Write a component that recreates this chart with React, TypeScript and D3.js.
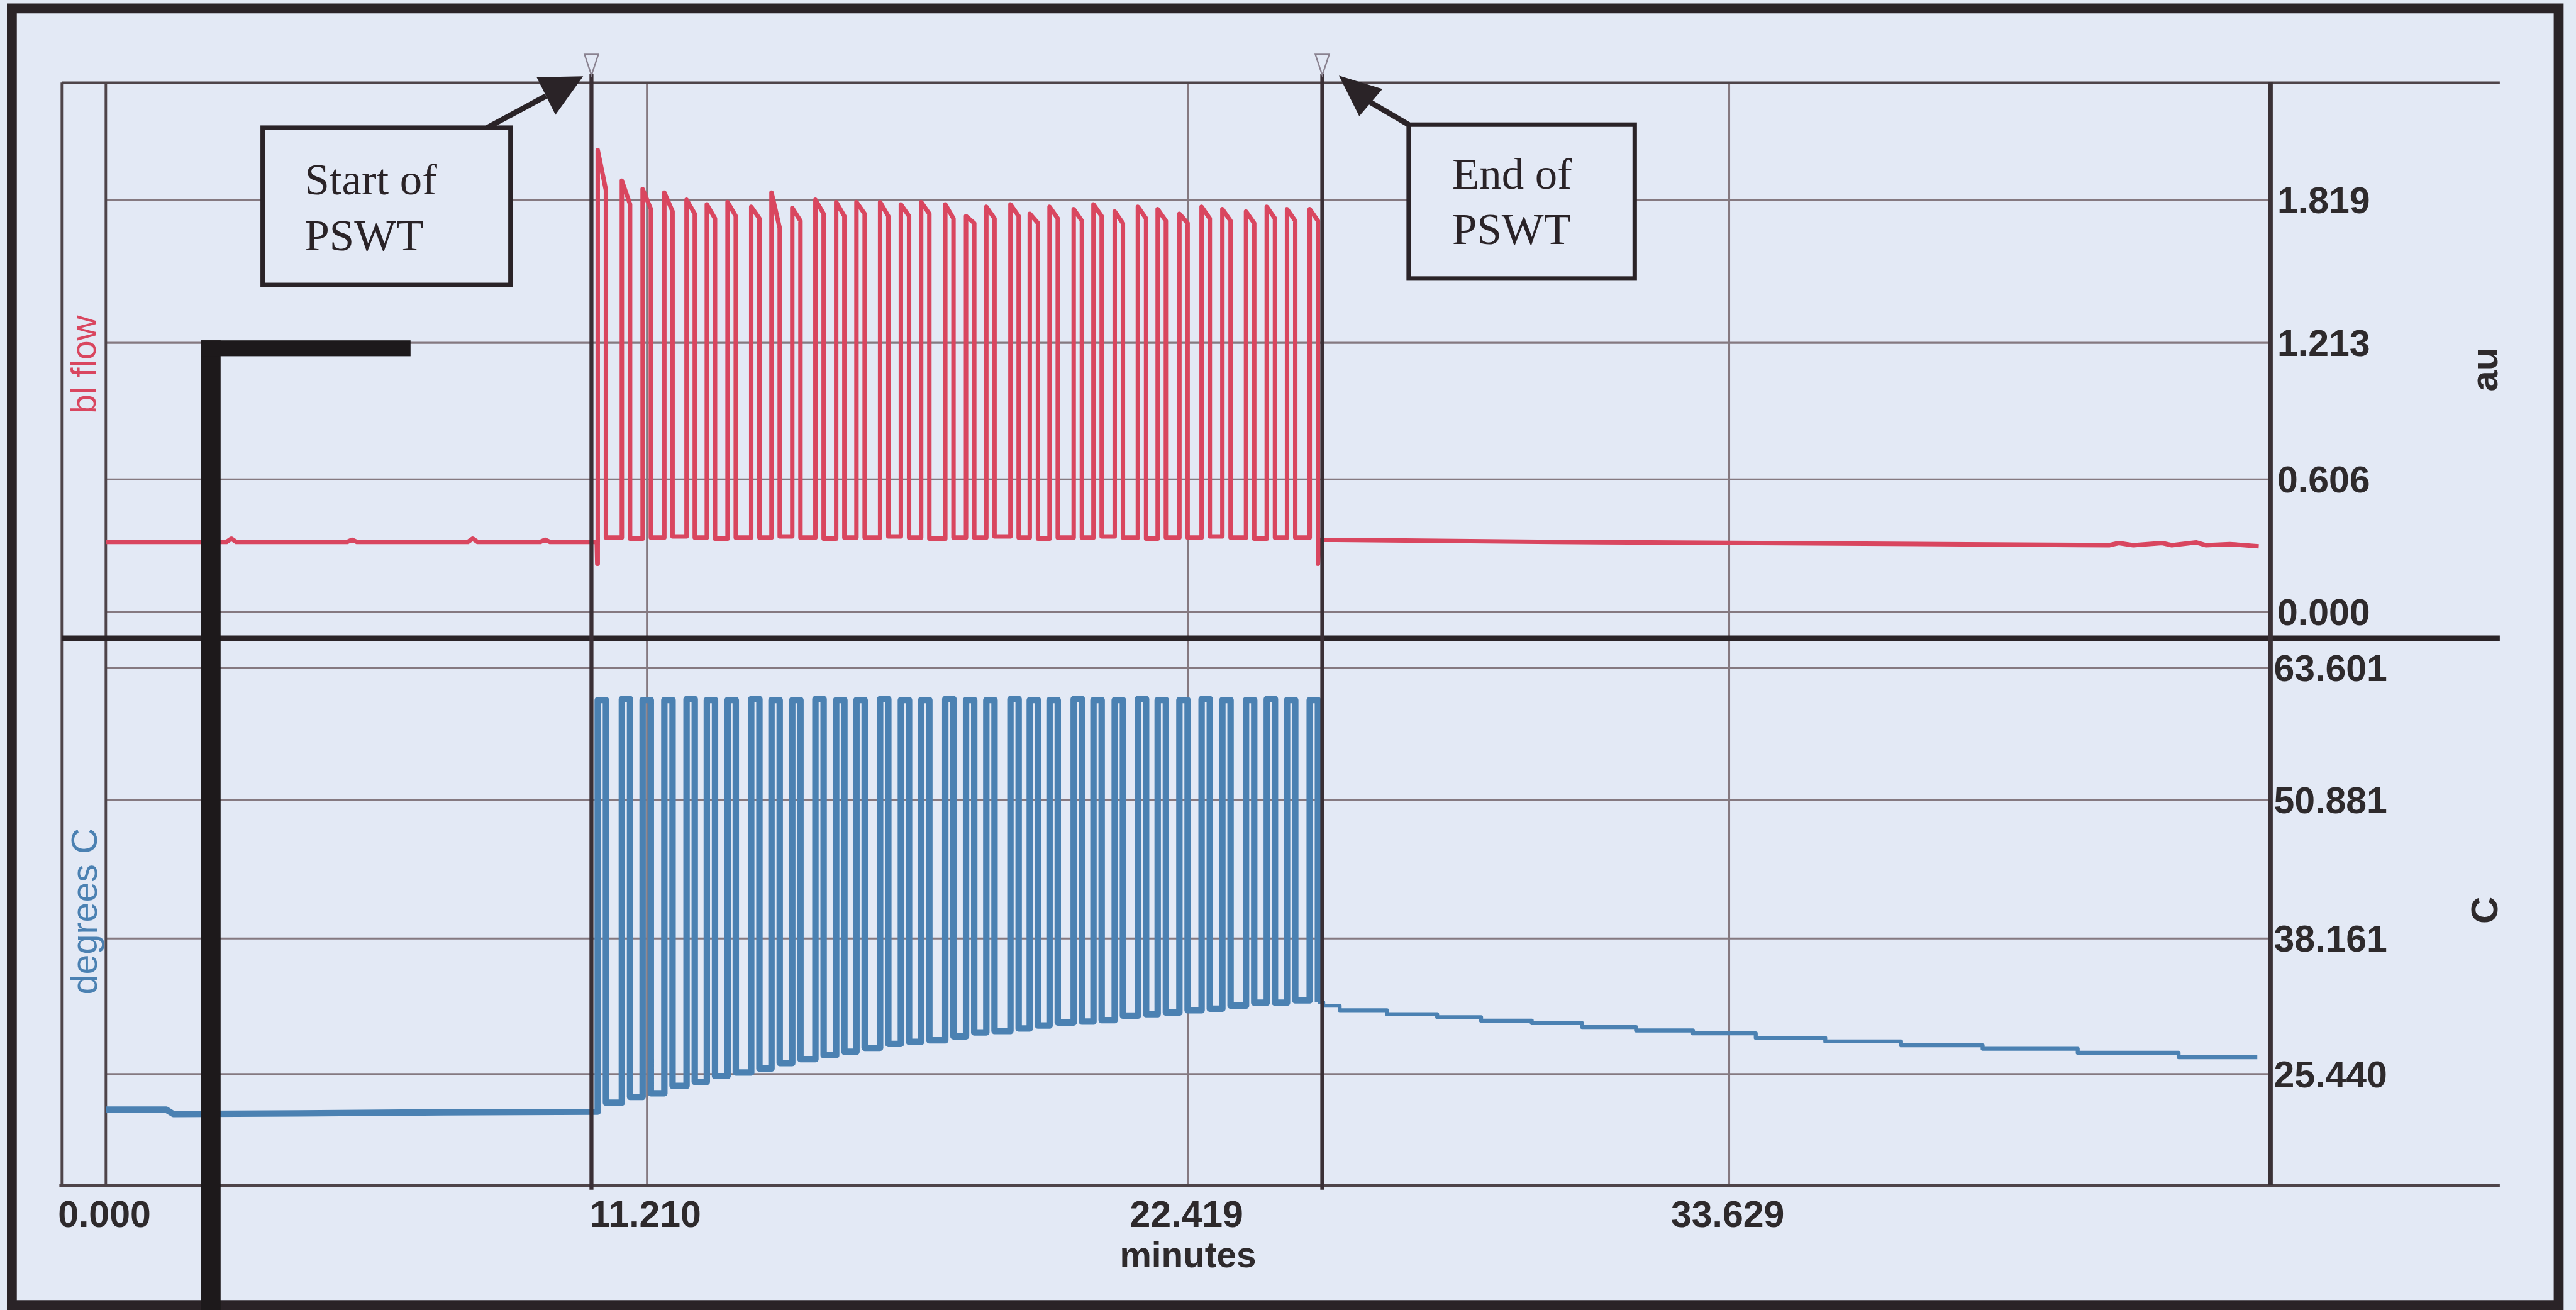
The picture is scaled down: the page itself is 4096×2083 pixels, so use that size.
import React from 'react';
import * as d3 from 'd3';

// ---------------- data ----------------
const xTicks = [0, 11.21, 22.419, 33.629];
const flowTicks = [0, 0.606, 1.213, 1.819];
const tempTicks = [25.44, 38.161, 50.881, 63.601];
const eventTimes = [10.06, 25.2];

// pulse train timing (minutes)
const pulseRise = [10.19, 10.69, 11.12, 11.57, 12.03, 12.45, 12.88, 13.37, 13.79, 14.22, 14.70, 15.13, 15.55, 16.04, 16.47, 16.89, 17.39, 17.82, 18.24, 18.74, 19.14, 19.55, 20.05, 20.46, 20.90, 21.38, 21.79, 22.24, 22.70, 23.13, 23.62, 24.05, 24.47, 24.94];
const pulseFall = [10.36, 10.86, 11.29, 11.74, 12.20, 12.62, 13.05, 13.54, 13.96, 14.39, 14.87, 15.30, 15.72, 16.21, 16.64, 17.06, 17.56, 17.99, 18.41, 18.91, 19.31, 19.72, 20.22, 20.63, 21.07, 21.55, 21.96, 22.41, 22.87, 23.30, 23.79, 24.22, 24.64, 25.11];

// blood flow (au)
const flowPeak = [2.03, 1.90, 1.865, 1.85, 1.82, 1.80, 1.81, 1.79, 1.85, 1.785, 1.82, 1.81, 1.81, 1.81, 1.80, 1.81, 1.80, 1.75, 1.79, 1.80, 1.76, 1.79, 1.78, 1.80, 1.77, 1.79, 1.78, 1.76, 1.79, 1.78, 1.77, 1.79, 1.78, 1.78];
const flowPlateau = [1.86, 1.80, 1.78, 1.77, 1.76, 1.74, 1.75, 1.74, 1.70, 1.73, 1.76, 1.75, 1.76, 1.75, 1.75, 1.76, 1.74, 1.72, 1.74, 1.75, 1.72, 1.74, 1.73, 1.75, 1.72, 1.74, 1.73, 1.72, 1.74, 1.73, 1.72, 1.74, 1.73, 1.73];
const flowLow = [0.34, 0.335, 0.34, 0.345, 0.34, 0.335, 0.34, 0.34, 0.345, 0.34, 0.335, 0.34, 0.34, 0.345, 0.34, 0.335, 0.34, 0.34, 0.345, 0.34, 0.335, 0.34, 0.34, 0.345, 0.34, 0.335, 0.34, 0.34, 0.345, 0.34, 0.335, 0.34, 0.34, 0.22];
const flowPreTime = [0, 2.5, 2.6, 2.7, 5.0, 5.1, 5.2, 7.5, 7.6, 7.7, 9.0, 9.1, 9.2, 10.17, 10.18];
const flowPreValue = [0.32, 0.32, 0.335, 0.32, 0.32, 0.33, 0.32, 0.32, 0.335, 0.32, 0.32, 0.33, 0.32, 0.32, 0.22];
const flowPostTime = [25.14, 30.0, 38.0, 41.5, 41.7, 42.0, 42.6, 42.8, 43.3, 43.5, 44.0, 44.6];
const flowPostValue = [0.33, 0.32, 0.31, 0.305, 0.315, 0.305, 0.315, 0.305, 0.318, 0.305, 0.31, 0.30];

// skin temperature (degrees C)
const tempHigh = [60.5, 60.6, 60.5, 60.5, 60.6, 60.5, 60.5, 60.6, 60.5, 60.5, 60.6, 60.5, 60.5, 60.6, 60.5, 60.5, 60.6, 60.5, 60.5, 60.6, 60.5, 60.5, 60.6, 60.5, 60.5, 60.6, 60.5, 60.5, 60.6, 60.5, 60.5, 60.6, 60.5, 60.5];
const tempLow = [22.75, 23.30, 23.63, 24.33, 24.70, 25.25, 25.58, 25.95, 26.46, 26.83, 27.20, 27.53, 27.90, 28.27, 28.46, 28.60, 28.97, 29.34, 29.48, 29.71, 29.99, 30.27, 30.36, 30.50, 30.92, 31.06, 31.20, 31.43, 31.57, 31.85, 32.13, 32.13, 32.36, 32.17];
const tempPreTime = [0, 1.25, 1.4, 4.0, 7.0, 10.19];
const tempPreValue = [22.10, 22.10, 21.68, 21.75, 21.85, 21.90];
const tempTailTime = [25.11, 25.22, 25.56, 26.54, 27.58, 28.49, 29.54, 30.58, 31.70, 32.88, 34.18, 35.62, 37.19, 38.88, 40.85, 42.94, 44.57];
const tempTailValue = [32.17, 31.85, 31.43, 31.06, 30.78, 30.45, 30.22, 29.85, 29.53, 29.25, 28.83, 28.50, 28.13, 27.81, 27.44, 27.02, 27.02];

// ---------------- chart ----------------
type Pt = [number, number];

function pulseSeries(
  preT: number[], preV: number[],
  high: number[], plateau: number[], low: number[],
): Pt[] {
  const pts: Pt[] = preT.map((t, i) => [t, preV[i]] as Pt);
  pulseRise.forEach((r, i) => {
    const last = pts[pts.length - 1][1];
    pts.push([r, last]);
    pts.push([r, high[i]]);
    pts.push([pulseFall[i], plateau[i]]);
    pts.push([pulseFall[i], low[i]]);
  });
  return pts;
}

export default function App() {
  const W = 5208;
  const H = 2648;
  const bg = '#e3e9f5';
  const sans = "'Liberation Sans', Arial, Helvetica, sans-serif";
  const serif = "'Liberation Serif', 'Times New Roman', serif";

  const plotL = 214, plotR = 4590, plotT = 167, plotB = 2396;
  const colL = 125, extR = 5054, divY = 1290;

  const x = d3.scaleLinear().domain([0, 44.84]).range([plotL, plotR]);
  const yF = d3.scaleLinear().domain(flowTicks).range([1237, 969, 693, 404]);
  const yT = d3.scaleLinear().domain(tempTicks).range([2171, 1897, 1617, 1350]);

  const flowLine = d3.line<Pt>().x(d => x(d[0])).y(d => yF(d[1]));
  const tempLine = d3.line<Pt>().x(d => x(d[0])).y(d => yT(d[1]));
  const tempStep = d3.line<Pt>().x(d => x(d[0])).y(d => yT(d[1])).curve(d3.curveStepAfter);

  const flowPts = pulseSeries(flowPreTime, flowPreValue, flowPeak, flowPlateau, flowLow);
  flowPostTime.forEach((t, i) => flowPts.push([t, flowPostValue[i]]));

  const tempPts = pulseSeries(tempPreTime, tempPreValue, tempHigh, tempHigh, tempLow);
  const tailPts: Pt[] = tempTailTime.map((t, i) => [t, tempTailValue[i]] as Pt);

  const fmt = d3.format('.3f');
  const gridColor = '#857980';
  const frameColor = '#4e4449';
  const dark = '#2a2327';
  const red = '#d9465f';
  const blue = '#4b81b2';
  const textColor = '#2e2a2c';

  return (
    <svg
      width={4096}
      height={2083}
      viewBox={`0 0 ${W} ${H}`}
      preserveAspectRatio="none"
      style={{ position: 'absolute', left: 0, top: 0, display: 'block' }}
    >
      <rect x={0} y={0} width={W} height={H} fill={bg} />

      {/* horizontal grid */}
      {flowTicks.map(v => (
        <line key={'gf' + v} x1={plotL} x2={plotR} y1={yF(v)} y2={yF(v)} stroke={gridColor} strokeWidth={4} />
      ))}
      {tempTicks.map(v => (
        <line key={'gt' + v} x1={plotL} x2={plotR} y1={yT(v)} y2={yT(v)} stroke={gridColor} strokeWidth={4} />
      ))}
      {/* vertical grid */}
      {xTicks.filter(v => v > 0).map(v => (
        <line key={'gx' + v} x1={x(v)} x2={x(v)} y1={plotT} y2={plotB} stroke={gridColor} strokeWidth={4} />
      ))}

      {/* frame lines */}
      <line x1={colL} x2={extR} y1={plotT} y2={plotT} stroke={frameColor} strokeWidth={5} />
      <line x1={colL} x2={colL} y1={plotT} y2={plotB} stroke={frameColor} strokeWidth={5} />
      <line x1={plotL} x2={plotL} y1={plotT} y2={plotB} stroke={frameColor} strokeWidth={5} />
      <line x1={120} x2={extR} y1={plotB} y2={plotB} stroke={frameColor} strokeWidth={6} />
      <line x1={colL} x2={extR} y1={divY} y2={divY} stroke={dark} strokeWidth={11} />
      <line x1={plotR} x2={plotR} y1={plotT} y2={plotB} stroke="#3a3136" strokeWidth={10} />

      {/* series */}
      <path d={flowLine(flowPts) || ''} fill="none" stroke={red} strokeWidth={9} strokeLinejoin="round" />
      <path d={tempLine(tempPts) || ''} fill="none" stroke={blue} strokeWidth={13} strokeLinejoin="round" />
      <path d={tempStep(tailPts) || ''} fill="none" stroke={blue} strokeWidth={8} strokeLinejoin="round" />

      {/* event markers */}
      {eventTimes.map(t => (
        <g key={'ev' + t}>
          <line x1={x(t)} x2={x(t)} y1={150} y2={2405} stroke="#3a2f35" strokeWidth={8} />
          <polygon
            points={`${x(t) - 14},110 ${x(t) + 14},110 ${x(t)},152`}
            fill={bg}
            stroke="#8a8290"
            strokeWidth={3}
          />
        </g>
      ))}

      {/* callouts */}
      <rect x={531} y={258} width={501} height={318} fill={bg} stroke={dark} strokeWidth={9} />
      <text x={616} y={393} fontFamily={serif} fontSize={90} fill={dark}>Start of</text>
      <text x={616} y={506} fontFamily={serif} fontSize={90} fill={dark}>PSWT</text>
      <line x1={985} y1={258} x2={1104} y2={194} stroke={dark} strokeWidth={11} />
      <polygon points="1179,154 1085,156 1123,232" fill={dark} />

      <rect x={2848} y={252} width={457} height={311} fill={bg} stroke={dark} strokeWidth={9} />
      <text x={2936} y={382} fontFamily={serif} fontSize={90} fill={dark}>End of</text>
      <text x={2936} y={493} fontFamily={serif} fontSize={90} fill={dark}>PSWT</text>
      <line x1={2848} y1={252} x2={2771} y2={207} stroke={dark} strokeWidth={11} />
      <polygon points="2707,153 2795,180 2748,235" fill={dark} />

      {/* right axis tick labels */}
      {flowTicks.map(v => (
        <text key={'tf' + v} x={4604} y={yF(v)} dy="0.36em" fontFamily={sans} fontWeight="bold" fontSize={75} fill={textColor}>
          {fmt(v)}
        </text>
      ))}
      {tempTicks.map(v => (
        <text key={'tt' + v} x={4597} y={yT(v)} dy="0.36em" fontFamily={sans} fontWeight="bold" fontSize={75} fill={textColor}>
          {fmt(v)}
        </text>
      ))}
      {/* x tick labels */}
      {xTicks.map(v => (
        <text key={'tx' + v} x={x(v) - 3} y={2480} textAnchor="middle" fontFamily={sans} fontWeight="bold" fontSize={75} fill={textColor}>
          {fmt(v)}
        </text>
      ))}
      <text x={x(22.419)} y={2562} textAnchor="middle" fontFamily={sans} fontWeight="bold" fontSize={72} fill={textColor}>minutes</text>

      {/* axis titles */}
      <text transform="translate(5022,747) rotate(-90)" textAnchor="middle" dy="0.36em" fontFamily={sans} fontWeight="bold" fontSize={76} fill={textColor}>au</text>
      <text transform="translate(5022,1840) rotate(-90)" textAnchor="middle" dy="0.36em" fontFamily={sans} fontWeight="bold" fontSize={76} fill={textColor}>C</text>
      <text transform="translate(168,737) rotate(-90)" textAnchor="middle" dy="0.36em" fontFamily={sans} fontSize={70} fill={red}>bl flow</text>
      <text transform="translate(170,1842) rotate(-90)" textAnchor="middle" dy="0.36em" fontFamily={sans} fontSize={73} fill={blue}>degrees C</text>

      {/* outer frame */}
      <rect x={24} y={17} width={5149} height={2621} fill="none" stroke={dark} strokeWidth={20} />

      {/* black L-shaped bar from the scanned page */}
      <rect x={406} y={688} width={40} height={1960} fill="#1d191b" />
      <rect x={406} y={688} width={424} height={32} fill="#1d191b" />
    </svg>
  );
}
